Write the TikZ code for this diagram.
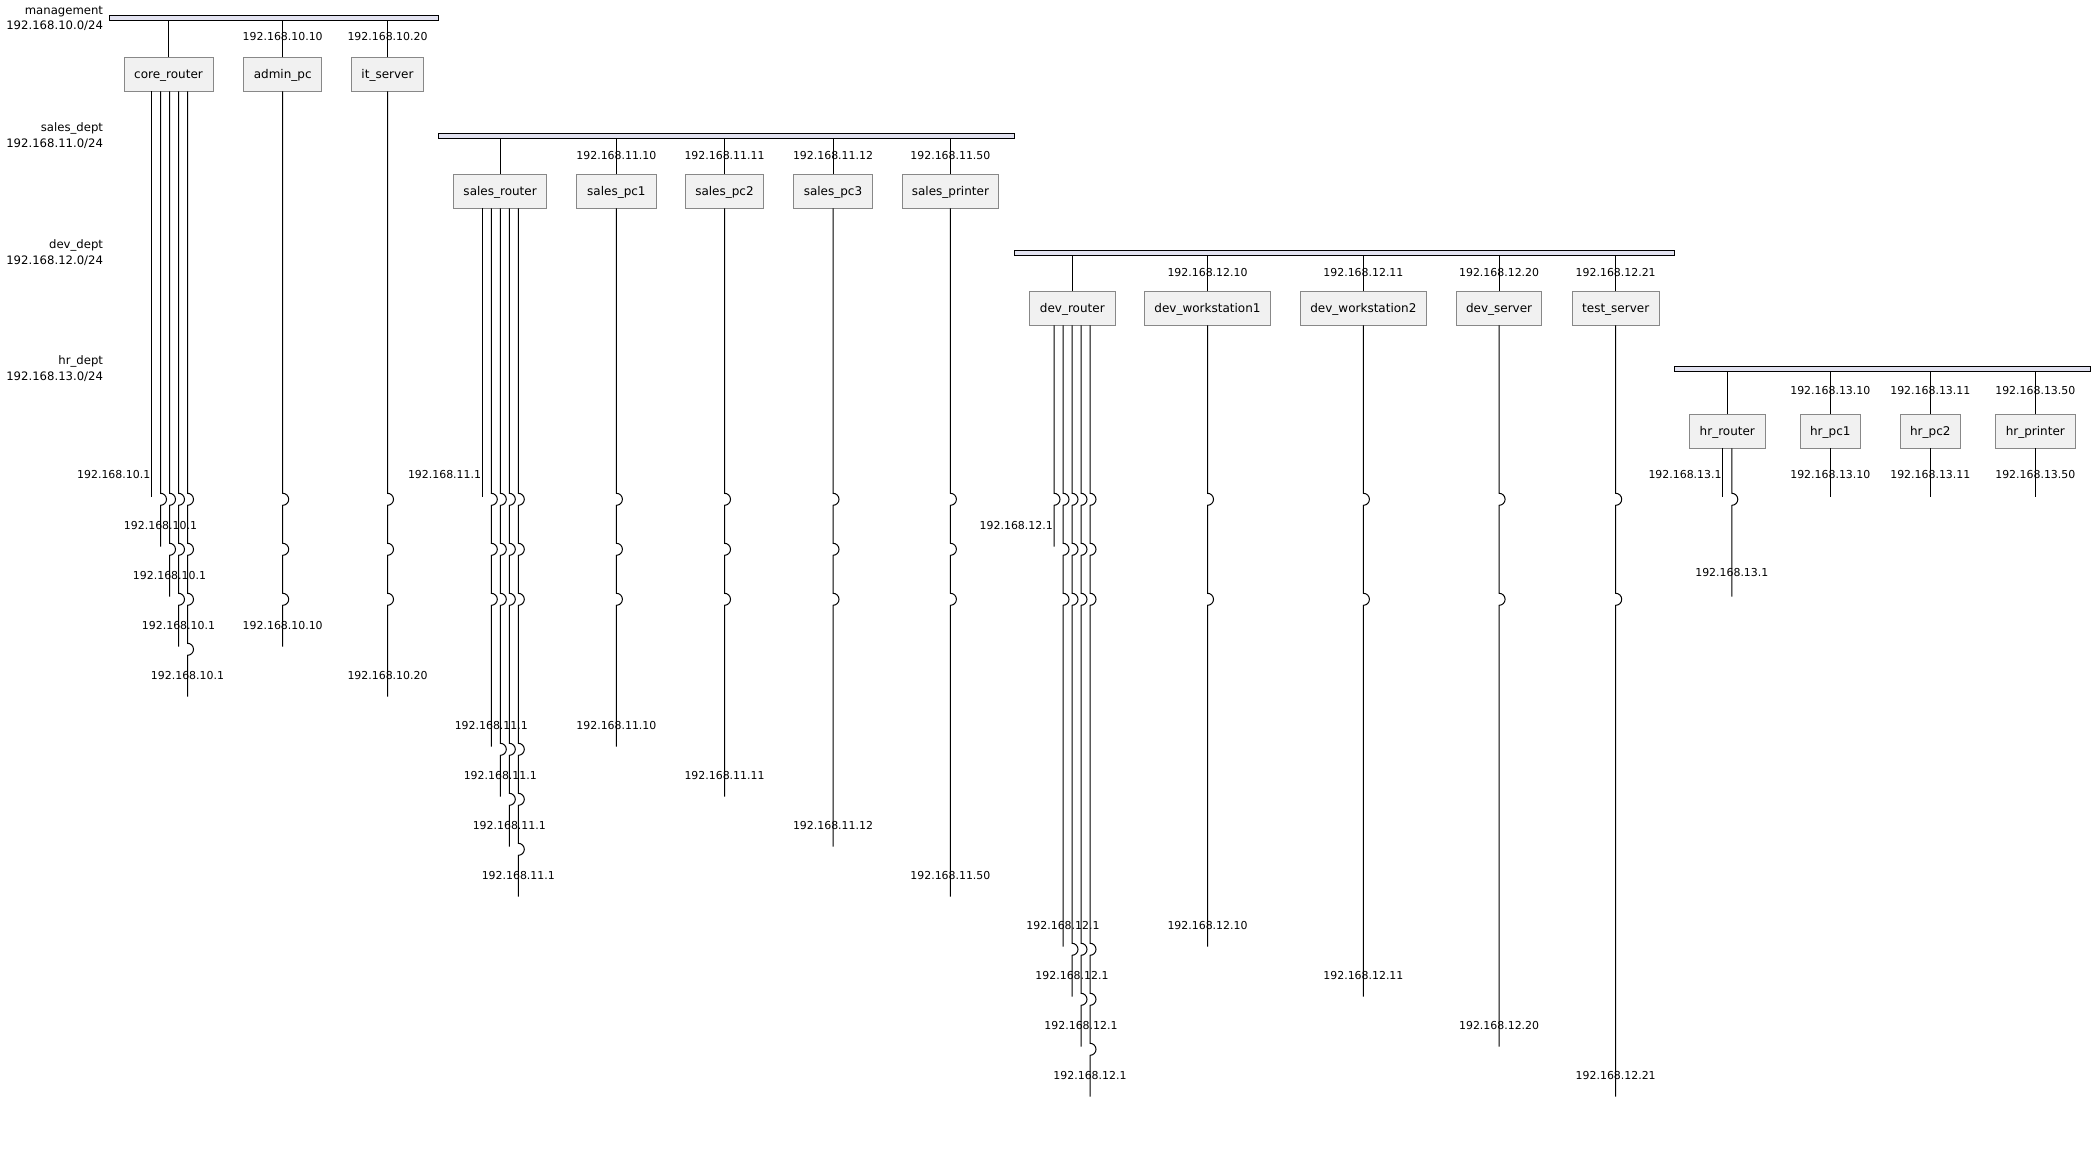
\documentclass[tikz,border=0pt]{standalone}
\usepackage{fontspec}
\setmainfont{DejaVu Sans}
\definecolor{boxfill}{RGB}{241,241,241}
\definecolor{boxline}{RGB}{136,136,136}
\definecolor{netfill}{RGB}{226,226,240}
\newcommand\jwire[5]{\draw[wire] (#1.south -| #2,0) \foreach \j in {#3}{ -- (#2,\j-6) arc[start angle=90,end angle=-90,radius=4.5pt]} -- (#2,#4) coordinate (#5);}
\newcommand\pwire[4]{\draw[wire] (#1.south -| #2,0) -- (#2,#3) coordinate (#4);}
\begin{document}
\begin{tikzpicture}[x=0.75pt,y=-0.75pt,
  wire/.style={draw=black,line width=0.75pt},
  devbox/.style={draw=boxline,fill=boxfill,line width=0.75pt,inner sep=0pt,outer sep=0pt,minimum height=25.5pt,text height=7.5pt,text depth=0.6pt,font=\fontsize{9pt}{11pt}\selectfont},
  netbar/.style={draw=black,fill=netfill,line width=0.75pt,inner sep=0pt,outer sep=0pt,minimum height=3.75pt},
  lbl/.style={inner sep=0pt,yshift=-0.75pt,font=\fontsize{8.2pt}{10pt}\selectfont},
  netlbl/.style={inner sep=0pt,anchor=base east,font=\fontsize{8.75pt}{10.5pt}\selectfont}]
\fill[white] (0,0) rectangle (2096,1152);
\useasboundingbox (0,0) rectangle (2096,1152);
% networks
\node[netbar,minimum width=246.75pt] (nmgmt) at (274.2,18.5) {};
\node[netbar,minimum width=431.9pt] (nsales) at (726.65,135.8) {};
\node[netbar,minimum width=494.7pt] (ndev) at (1344.4,253) {};
\node[netbar,minimum width=311.85pt] (nhr) at (1882.1,368.8) {};
\node[netlbl] (tmgmt) at (103.3,14.3) {management};
\node[netlbl] (tmgmtip) at (103.3,30) {192.168.10.0/24};
\node[netlbl] (tsales) at (103.3,131.6) {sales\_dept};
\node[netlbl] (tsalesip) at (103.3,147.3) {192.168.11.0/24};
\node[netlbl] (tdev) at (103.3,248.8) {dev\_dept};
\node[netlbl] (tdevip) at (103.3,264.5) {192.168.12.0/24};
\node[netlbl] (thr) at (103.3,364.6) {hr\_dept};
\node[netlbl] (thrip) at (103.3,380.3) {192.168.13.0/24};
% devices
\node[devbox,minimum width=66.75pt] (core) at (168.5,74.4) {core\_router};
\node[devbox,minimum width=58.5pt] (admin) at (282.7,74.4) {admin\_pc};
\node[devbox,minimum width=54pt] (itsrv) at (387.5,74.4) {it\_server};
\node[devbox,minimum width=69.75pt] (srouter) at (500.1,191.3) {sales\_router};
\node[devbox,minimum width=59.7pt] (spc1) at (616.4,191.3) {sales\_pc1};
\node[devbox,minimum width=58.5pt] (spc2) at (724.5,191.3) {sales\_pc2};
\node[devbox,minimum width=59.25pt] (spc3) at (833,191.3) {sales\_pc3};
\node[devbox,minimum width=72pt] (sprn) at (950.4,191.3) {sales\_printer};
\node[devbox,minimum width=64.3pt] (drouter) at (1072.3,308.3) {dev\_router};
\node[devbox,minimum width=94.5pt] (dws1) at (1207.5,308.3) {dev\_workstation1};
\node[devbox,minimum width=94.5pt] (dws2) at (1363.4,308.3) {dev\_workstation2};
\node[devbox,minimum width=64.3pt] (dsrv) at (1499.1,308.3) {dev\_server};
\node[devbox,minimum width=65pt] (tsrv) at (1615.7,308.3) {test\_server};
\node[devbox,minimum width=57pt] (hrouter) at (1727.3,431.3) {hr\_router};
\node[devbox,minimum width=45pt] (hpc1) at (1830.3,431.3) {hr\_pc1};
\node[devbox,minimum width=45pt] (hpc2) at (1930.3,431.3) {hr\_pc2};
\node[devbox,minimum width=60pt] (hprn) at (2035.3,431.3) {hr\_printer};
% upper connectors
\foreach \b in {core,admin,itsrv} \draw[wire] (\b.north) -- (\b.north |- nmgmt.south);
\foreach \b in {srouter,spc1,spc2,spc3,sprn} \draw[wire] (\b.north) -- (\b.north |- nsales.south);
\foreach \b in {drouter,dws1,dws2,dsrv,tsrv} \draw[wire] (\b.north) -- (\b.north |- ndev.south);
\foreach \b in {hrouter,hpc1,hpc2,hprn} \draw[wire] (\b.north) -- (\b.north |- nhr.south);
% upper address labels
\node[lbl] (ua1) at (282.7,36) {192.168.10.10};
\node[lbl] (ua2) at (387.5,36) {192.168.10.20};
\node[lbl] (ub1) at (616.4,154.3) {192.168.11.10};
\node[lbl] (ub2) at (724.5,154.3) {192.168.11.11};
\node[lbl] (ub3) at (833,154.3) {192.168.11.12};
\node[lbl] (ub4) at (950.4,154.3) {192.168.11.50};
\node[lbl] (uc1) at (1207.5,271.3) {192.168.12.10};
\node[lbl] (uc2) at (1363.4,271.3) {192.168.12.11};
\node[lbl] (uc3) at (1499.1,271.3) {192.168.12.20};
\node[lbl] (uc4) at (1615.7,271.3) {192.168.12.21};
\node[lbl] (ud1) at (1830.3,390) {192.168.13.10};
\node[lbl] (ud2) at (1930.3,390) {192.168.13.11};
\node[lbl] (ud3) at (2035.3,390) {192.168.13.50};
% management lower wires
\pwire{core}{151.5}{496.7}{ce0}
\jwire{core}{160.5}{499.3}{546.7}{ce1}
\jwire{core}{169.5}{499.3,549.3}{596.7}{ce2}
\jwire{core}{178.5}{499.3,549.3,599.3}{646.7}{ce3}
\jwire{core}{187.5}{499.3,549.3,599.3,649.3}{696.7}{ce4}
\jwire{admin}{282.7}{499.3,549.3,599.3}{646.7}{ae}
\jwire{itsrv}{387.5}{499.3,549.3,599.3}{696.7}{ie}
\node[lbl,anchor=east] (la0) at (150.5,474) {192.168.10.1};
\node[lbl] (la1) at (160.5,525) {192.168.10.1};
\node[lbl] (la2) at (169.5,575) {192.168.10.1};
\node[lbl] (la3) at (178.5,625) {192.168.10.1};
\node[lbl] (la4) at (187.5,675) {192.168.10.1};
\node[lbl] (la5) at (282.7,625) {192.168.10.10};
\node[lbl] (la6) at (387.5,675) {192.168.10.20};
% sales lower wires
\pwire{srouter}{482.3}{496.7}{se0}
\jwire{srouter}{491.3}{499.3,549.3,599.3}{746.7}{se1}
\jwire{srouter}{500.3}{499.3,549.3,599.3,749.3}{796.7}{se2}
\jwire{srouter}{509.3}{499.3,549.3,599.3,749.3,799.3}{846.7}{se3}
\jwire{srouter}{518.3}{499.3,549.3,599.3,749.3,799.3,849.3}{896.7}{se4}
\jwire{spc1}{616.4}{499.3,549.3,599.3}{746.7}{sp1e}
\jwire{spc2}{724.5}{499.3,549.3,599.3}{796.7}{sp2e}
\jwire{spc3}{833}{499.3,549.3,599.3}{846.7}{sp3e}
\jwire{sprn}{950.4}{499.3,549.3,599.3}{896.7}{sp4e}
\node[lbl,anchor=east] (lb0) at (481.3,474) {192.168.11.1};
\node[lbl] (lb1) at (491.3,725) {192.168.11.1};
\node[lbl] (lb2) at (500.3,775) {192.168.11.1};
\node[lbl] (lb3) at (509.3,825) {192.168.11.1};
\node[lbl] (lb4) at (518.3,875) {192.168.11.1};
\node[lbl] (lb5) at (616.4,725) {192.168.11.10};
\node[lbl] (lb6) at (724.5,775) {192.168.11.11};
\node[lbl] (lb7) at (833,825) {192.168.11.12};
\node[lbl] (lb8) at (950.4,875) {192.168.11.50};
% dev lower wires
\jwire{drouter}{1054}{499.3}{546.7}{de0}
\jwire{drouter}{1063}{499.3,549.3,599.3}{946.7}{de1}
\jwire{drouter}{1072}{499.3,549.3,599.3,949.3}{996.7}{de2}
\jwire{drouter}{1081}{499.3,549.3,599.3,949.3,999.3}{1046.7}{de3}
\jwire{drouter}{1090}{499.3,549.3,599.3,949.3,999.3,1049.3}{1096.7}{de4}
\jwire{dws1}{1207.5}{499.3,599.3}{946.7}{dw1e}
\jwire{dws2}{1363.4}{499.3,599.3}{996.7}{dw2e}
\jwire{dsrv}{1499.1}{499.3,599.3}{1046.7}{dse}
\jwire{tsrv}{1615.7}{499.3,599.3}{1096.7}{tse}
\node[lbl,anchor=east] (lc0) at (1053,525) {192.168.12.1};
\node[lbl] (lc1) at (1063,925) {192.168.12.1};
\node[lbl] (lc2) at (1072,975) {192.168.12.1};
\node[lbl] (lc3) at (1081,1025) {192.168.12.1};
\node[lbl] (lc4) at (1090,1075) {192.168.12.1};
\node[lbl] (lc5) at (1207.5,925) {192.168.12.10};
\node[lbl] (lc6) at (1363.4,975) {192.168.12.11};
\node[lbl] (lc7) at (1499.1,1025) {192.168.12.20};
\node[lbl] (lc8) at (1615.7,1075) {192.168.12.21};
% hr lower wires
\pwire{hrouter}{1722.8}{496.7}{he0}
\jwire{hrouter}{1731.8}{499.3}{596.7}{he1}
\pwire{hpc1}{1830.3}{496.7}{hp1e}
\pwire{hpc2}{1930.3}{496.7}{hp2e}
\pwire{hprn}{2035.3}{496.7}{hp3e}
\node[lbl,anchor=east] (ld0) at (1721.8,474) {192.168.13.1};
\node[lbl] (ld1) at (1731.8,572) {192.168.13.1};
\node[lbl] (ld2) at (1830.3,474) {192.168.13.10};
\node[lbl] (ld3) at (1930.3,474) {192.168.13.11};
\node[lbl] (ld4) at (2035.3,474) {192.168.13.50};
\end{tikzpicture}
\end{document}
